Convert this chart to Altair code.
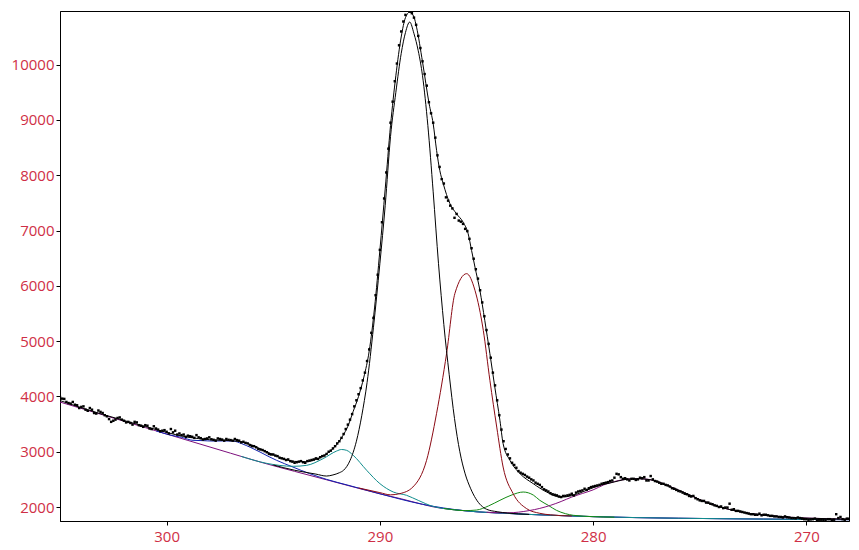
import altair as alt
import pandas as pd

# ---------------- data ----------------
# measured spectrum (binding energy eV, counts)
data_energy = [
    305.0, 304.8, 304.6, 304.4, 304.2, 304.0, 303.8, 303.6, 303.4, 303.2,
    303.0, 302.8, 302.6, 302.4, 302.2, 302.0, 301.8, 301.6, 301.4, 301.2,
    301.0, 300.8, 300.6, 300.4, 300.2, 300.0, 299.8, 299.6, 299.4, 299.2,
    299.0, 298.8, 298.6, 298.4, 298.2, 298.0, 297.8, 297.6, 297.4, 297.2,
    297.0, 296.8, 296.6, 296.4, 296.2, 296.0, 295.8, 295.6, 295.4, 295.2,
    295.0, 294.8, 294.6, 294.4, 294.2, 294.0, 293.8, 293.6, 293.4, 293.2,
    293.0, 292.8, 292.6, 292.4, 292.2,
    292.0, 291.9, 291.8, 291.7, 291.6, 291.5, 291.4, 291.3, 291.2, 291.1,
    291.0, 290.9, 290.8, 290.7, 290.6, 290.5, 290.4, 290.3, 290.2, 290.1,
    290.0, 289.9, 289.8, 289.7, 289.6, 289.5, 289.4, 289.3, 289.2, 289.1,
    289.0, 288.9, 288.8, 288.7, 288.6, 288.5, 288.4, 288.3, 288.2, 288.1,
    288.0, 287.9, 287.8, 287.7, 287.6, 287.5, 287.4, 287.3, 287.2, 287.1,
    287.0, 286.9, 286.8, 286.7, 286.6, 286.5, 286.4, 286.3, 286.2, 286.1,
    286.0, 285.9, 285.8, 285.7, 285.6, 285.5, 285.4, 285.3, 285.2, 285.1,
    285.0, 284.9, 284.8, 284.7, 284.6, 284.5, 284.4, 284.3, 284.2, 284.1,
    284.0, 283.9, 283.8, 283.7, 283.6,
    283.4, 283.2, 283.0, 282.8, 282.6, 282.4, 282.2, 282.0, 281.8, 281.6,
    281.4, 281.2, 281.0, 280.8, 280.6, 280.4, 280.2, 280.0, 279.8, 279.6,
    279.4, 279.2, 279.0, 278.8, 278.6, 278.4, 278.2, 278.0, 277.8, 277.6,
    277.4, 277.2, 277.0, 276.8, 276.6, 276.4, 276.2, 276.0, 275.8, 275.6,
    275.4, 275.2, 275.0, 274.8, 274.6, 274.4, 274.2, 274.0, 273.8, 273.6,
    273.4, 273.2, 273.0, 272.8, 272.6, 272.4, 272.2, 272.0, 271.8, 271.6,
    271.4, 271.2, 271.0, 270.8, 270.6, 270.4, 270.2, 270.0, 269.8, 269.6,
    269.4, 269.2, 269.0, 268.8, 268.6, 268.4, 268.2, 268.0,
    # in-between channels of the flat regions
    304.9, 304.7, 304.5, 304.3, 304.1, 303.9, 303.7, 303.5, 303.3, 303.1,
    302.9, 302.7, 302.5, 302.3, 302.1, 301.9, 301.7, 301.5, 301.3, 301.1,
    300.9, 300.7, 300.5, 300.3, 300.1, 299.9, 299.7, 299.5, 299.3, 299.1,
    298.9, 298.7, 298.5, 298.3, 298.1, 297.9, 297.7, 297.5, 297.3, 297.1,
    296.9, 296.7, 296.5, 296.3, 296.1, 295.9, 295.7, 295.5, 295.3, 295.1,
    294.9, 294.7, 294.5, 294.3, 294.1, 293.9, 293.7, 293.5, 293.3, 293.1,
    292.9, 292.7, 292.5, 292.3, 292.1,
    283.5, 283.3, 283.1, 282.9, 282.7, 282.5, 282.3, 282.1, 281.9, 281.7,
    281.5, 281.3, 281.1, 280.9, 280.7, 280.5, 280.3, 280.1, 279.9, 279.7,
    279.5, 279.3, 279.1, 278.9, 278.7, 278.5, 278.3, 278.1, 277.9, 277.7,
    277.5, 277.3, 277.1, 276.9, 276.7, 276.5, 276.3, 276.1, 275.9, 275.7,
    275.5, 275.3, 275.1, 274.9, 274.7, 274.5, 274.3, 274.1, 273.9, 273.7,
    273.5, 273.3, 273.1, 272.9, 272.7, 272.5, 272.3, 272.1, 271.9, 271.7,
    271.5, 271.3, 271.1, 270.9, 270.7, 270.5, 270.3, 270.1, 269.9, 269.7,
    269.5, 269.3, 269.1, 268.9, 268.7, 268.5, 268.3, 268.1,
]
data_counts = [
    3990, 3955, 3880, 3900, 3840, 3810, 3760, 3790, 3700, 3745,
    3700, 3640, 3540, 3580, 3620, 3560, 3540, 3490, 3530, 3470,
    3480, 3420, 3460, 3400, 3380, 3360, 3410, 3380, 3330, 3310,
    3290, 3270, 3300, 3245, 3230, 3260, 3215, 3240, 3220, 3230,
    3210, 3230, 3200, 3180, 3150, 3100, 3080, 3040, 3010, 2960,
    2950, 2920, 2880, 2850, 2830, 2800, 2820, 2810, 2830, 2850,
    2880, 2900, 2930, 3000, 3060,
    3150, 3190, 3250, 3320, 3410, 3490, 3580, 3680, 3820, 3930,
    4040, 4150, 4290, 4430, 4640, 4850, 5150, 5420, 5830, 6200,
    6650, 7150, 7580, 8050, 8480, 8950, 9330, 9700, 10020, 10350,
    10600, 10780, 10900, 10990, 10960, 10930, 10850, 10720, 10520, 10300,
    10060, 9830, 9620, 9320, 9120, 8950, 8680, 8360, 8150, 7930,
    7850, 7600, 7540, 7450, 7400, 7230, 7300, 7180, 7160, 7120,
    7030, 6990, 6850, 6680, 6490, 6300, 6130, 5920, 5700, 5450,
    5200, 4950, 4700, 4430, 4200, 3930, 3660, 3400, 3190, 3050,
    2950, 2880, 2800, 2760, 2710,
    2620, 2580, 2530, 2480, 2420, 2360, 2300, 2250, 2220, 2190,
    2200, 2210, 2240, 2260, 2290, 2330, 2340, 2370, 2390, 2420,
    2440, 2470, 2530, 2590, 2510, 2500, 2510, 2490, 2530, 2540,
    2480, 2500, 2460, 2420, 2400, 2370, 2330, 2290, 2260, 2230,
    2190, 2160, 2120, 2110, 2080, 2050, 2020, 2010, 1990, 2060,
    1960, 1930, 1910, 1890, 1870, 1860, 1880, 1860, 1850, 1840,
    1830, 1820, 1830, 1810, 1800, 1810, 1790, 1780, 1775, 1790,
    1770, 1765, 1780, 1760, 1870, 1820, 1770, 1790,
    # in-between channels of the flat regions
    3960, 3900, 3870, 3850, 3790, 3820, 3740, 3760, 3690, 3720,
    3660, 3590, 3560, 3610, 3580, 3530, 3520, 3540, 3480, 3450,
    3470, 3410, 3420, 3370, 3390, 3330, 3350, 3310, 3300, 3270,
    3280, 3250, 3260, 3220, 3240, 3225, 3200, 3230, 3200, 3215,
    3200, 3210, 3170, 3160, 3120, 3100, 3050, 3030, 2990, 2950,
    2930, 2890, 2870, 2860, 2820, 2810, 2830, 2800, 2840, 2860,
    2870, 2920, 2960, 3020, 3100,
    2650, 2600, 2550, 2500, 2440, 2400, 2320, 2280, 2230, 2210,
    2180, 2200, 2220, 2210, 2280, 2300, 2310, 2360, 2380, 2400,
    2430, 2450, 2480, 2600, 2540, 2520, 2480, 2510, 2500, 2520,
    2480, 2560, 2470, 2440, 2420, 2390, 2340, 2310, 2280, 2240,
    2200, 2200, 2140, 2110, 2080, 2060, 2030, 2000, 1980, 1990,
    1950, 1930, 1920, 1900, 1880, 1870, 1860, 1850, 1860, 1840,
    1830, 1820, 1810, 1815, 1800, 1795, 1800, 1780, 1770, 1780,
    1760, 1770, 1760, 1780, 1770, 1800, 1780, 1790,
]

# fit envelope
env_energy = [305.0, 304.0, 303.0, 302.0, 301.0, 300.0, 299.5, 299.0, 298.5, 298.0,
              297.5, 297.0, 296.5, 296.0, 295.5, 295.0, 294.5, 294.0, 293.5, 293.0,
              292.5, 292.0, 291.75, 291.5, 291.25, 291.0, 290.75, 290.5, 290.25, 290.0,
              289.75, 289.5, 289.25, 289.0, 288.8, 288.6, 288.4, 288.28, 288.0, 287.69,
              287.5, 287.34, 287.19, 287.03, 286.72, 286.41, 286.09, 285.86, 285.7, 285.54,
              285.31, 285.08, 284.84, 284.61, 284.37, 284.22, 283.9, 283.43, 282.81, 282.18,
              281.56, 280.93, 280.31, 279.68, 279.21, 278.43, 277.97, 277.34, 276.72, 276.09,
              275.31, 274.69, 274.06, 273.44, 272.81, 271.88, 270.63, 269.06, 268.0]
env_counts = [3925, 3795, 3675, 3565, 3455, 3350, 3300, 3262, 3237, 3218,
              3207, 3200, 3178, 3122, 3030, 2945, 2870, 2825, 2820, 2860,
              2960, 3140, 3280, 3460, 3730, 4000, 4350, 4820, 5600, 6640,
              7750, 8900, 9800, 10500, 10850, 10950, 10860, 10678, 10050, 9293,
              8932, 8449, 8088, 7850, 7491, 7305, 7147, 6943, 6641, 6339,
              5918, 5376, 4773, 4170, 3568, 3146, 2844, 2604, 2423, 2271,
              2181, 2211, 2302, 2392, 2434, 2501, 2513, 2495, 2423, 2320,
              2193, 2080, 2000, 1940, 1892, 1850, 1808, 1790, 1778]

# background
bg_energy = [305, 303, 301, 299, 297, 295.5, 294, 292.5, 291, 290,
             289, 288.5, 288, 287.5, 287, 286.5, 286, 285.5, 285, 284,
             283, 282, 281, 280, 279, 278, 276, 274, 272, 270, 268]
bg_counts = [3898, 3667, 3436, 3204, 2973, 2801, 2645, 2492, 2338, 2239,
             2148, 2098, 2049, 2003, 1972, 1950, 1932, 1915, 1902, 1884,
             1866, 1851, 1838, 1826, 1816, 1808, 1797, 1789, 1782, 1776, 1771]

# main component (black)
c_main_energy = [295.0, 294.0, 293.0, 292.5, 292.2, 291.9, 291.7, 291.4, 291.1, 290.85,
                 290.6, 290.3, 290.0, 289.75, 289.5, 289.25, 289.0, 288.8, 288.6, 288.4,
                 288.2, 288.0, 287.75, 287.5, 287.25, 287.0, 286.75, 286.5, 286.25, 286.0,
                 285.75, 285.5, 285.0, 284.5, 284.0, 283.0]
c_main_counts = [2760, 2665, 2595, 2560, 2580, 2620, 2665, 2840, 3190, 3650,
                 4250, 5250, 6400, 7450, 8700, 9500, 10200, 10580, 10770, 10560,
                 10250, 9800, 8900, 7700, 6400, 5300, 4400, 3600, 3000, 2600,
                 2340, 2150, 1960, 1915, 1890, 1866]

# component at ~286 eV (dark red)
c_red_energy = [291.0, 290.0, 289.5, 289.06, 288.45, 287.81, 287.34, 286.87, 286.48, 285.93,
                285.54, 285.15, 284.84, 284.52, 284.22, 283.75, 283.12, 282.5, 282.0, 281.0]
c_red_counts = [2345, 2260, 2220, 2242, 2362, 2844, 3694, 4779, 5864, 6220,
                5918, 5195, 4291, 3446, 2723, 2242, 1971, 1886, 1858, 1838]

# component at ~283 eV (green)
c_green_energy = [287.0, 286.0, 285.47, 284.9, 284.37, 283.8, 283.28, 282.8, 282.5, 282.1,
                  281.72, 281.3, 280.93, 280.0, 279.0]
c_green_counts = [1975, 1935, 1945, 2020, 2121, 2220, 2271, 2215, 2121, 2030,
                  1940, 1880, 1850, 1826, 1816]

# broad component at ~278 eV (purple)
c_mag_energy = [285.0, 284.0, 283.0, 282.5, 282.0, 281.5, 281.0, 280.5, 280.0, 279.5,
                279.0, 278.5, 278.0, 277.5, 277.0, 276.5, 276.0, 275.5, 275.0, 274.5,
                274.0, 273.5, 273.0, 272.5, 272.0, 271.0, 270.0, 269.0, 268.0]
c_mag_counts = [1905, 1895, 1935, 1975, 2030, 2100, 2180, 2245, 2310, 2400,
                2460, 2500, 2513, 2505, 2460, 2390, 2305, 2220, 2135, 2060,
                1995, 1945, 1905, 1875, 1855, 1820, 1800, 1788, 1778]

# component at ~297 eV (blue)
c_blue_energy = [300.5, 299.84, 299.3, 298.76, 298.3, 297.83, 297.35, 296.89, 296.48, 296.05,
                 295.62, 295.2, 294.84, 294.08, 293.3, 292.5, 291.5, 290, 288, 286,
                 284, 282, 280, 276, 272, 268]
c_blue_counts = [3378, 3302, 3260, 3206, 3200, 3193, 3195, 3193, 3146, 3075,
                 2994, 2910, 2844, 2723, 2605, 2500, 2395, 2239, 2049, 1932,
                 1884, 1851, 1826, 1797, 1782, 1771]

# component at ~291.7 eV (teal)
c_teal_energy = [296.5, 295.31, 294.06, 293.43, 292.66, 292.03, 291.8, 291.56, 291.25, 290.62,
                 290.0, 289.37, 288.75, 288.2, 287.5, 286, 284, 282, 280, 276, 272, 268]
c_teal_counts = [2915, 2790, 2736, 2754, 2875, 3012, 3040, 3025, 2935, 2664,
                 2423, 2271, 2212, 2120, 2010, 1932, 1884, 1851, 1826, 1797, 1782, 1771]

x_ticks = [300, 290, 280, 270]
y_ticks = [2000, 3000, 4000, 5000, 6000, 7000, 8000, 9000, 10000]

# ---------------- chart ----------------
LABEL_COLOR = "#cf2f46"
FONT = "Open Sans"

x_scale = alt.Scale(domain=[268, 305], reverse=True, nice=False, zero=False)
y_scale = alt.Scale(domain=[1747, 10970], nice=False, zero=False)

x_axis = alt.Axis(values=x_ticks, format="d", title=None, grid=False,
                  labelColor=LABEL_COLOR, labelFont=FONT, labelFontSize=15,
                  tickColor="black", domainColor="black", tickSize=4, labelPadding=4)
y_axis = alt.Axis(values=y_ticks, format="d", title=None, grid=False,
                  labelColor=LABEL_COLOR, labelFont=FONT, labelFontSize=15,
                  tickColor="black", domainColor="black", tickSize=4, labelPadding=2)

X = alt.X("E:Q", scale=x_scale, axis=x_axis)
Y = alt.Y("I:Q", scale=y_scale, axis=y_axis)


def curve(energy, counts, color):
    df = pd.DataFrame({"E": energy, "I": counts})
    return alt.Chart(df).mark_line(
        color=color, strokeWidth=1, interpolate="monotone", clip=True
    ).encode(x=X, y=Y)


layers = [
    curve(bg_energy, bg_counts, "#7d0f7d"),
    curve(c_blue_energy, c_blue_counts, "#1020b0"),
    curve(c_teal_energy, c_teal_counts, "#0f8c8c"),
    curve(c_green_energy, c_green_counts, "#138a13"),
    curve(c_red_energy, c_red_counts, "#8b0a14"),
    curve(c_mag_energy, c_mag_counts, "#84107c"),
    curve(c_main_energy, c_main_counts, "#000000"),
    curve(env_energy, env_counts, "#000000"),
]

pts = alt.Chart(pd.DataFrame({"E": data_energy, "I": data_counts})).mark_square(
    size=6, color="black", opacity=1, clip=True
).encode(x=X, y=Y)

chart = alt.layer(*layers, pts).properties(
    width=789,
    height=510,
    autosize=alt.AutoSizeParams(type="none"),
    padding={"left": 52, "top": 3, "right": 2, "bottom": 26},
    background="white",
).configure_view(stroke="black", strokeWidth=1)

chart.save("out.html", embed_options={"renderer": "svg", "actions": False})
